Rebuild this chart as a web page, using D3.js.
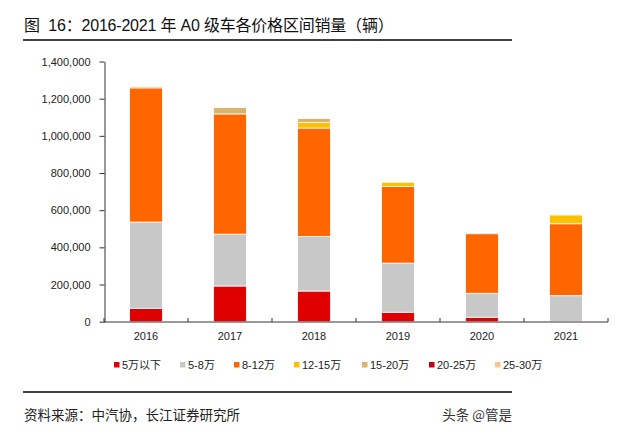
<!DOCTYPE html>
<html><head><meta charset="utf-8">
<script src="https://cdn.jsdelivr.net/npm/d3@7"></script>
<style>
body{margin:0;background:#fff;}
svg{display:block;}
</style></head>
<body>
<svg id="c" width="640" height="435"></svg>
<script>
const years = ["2016","2017","2018","2019","2020","2021"];
const seriesNames = ["5万以下","5-8万","8-12万","12-15万","15-20万","20-25万","25-30万"];
const s_under5 = [72000, 192000, 165000, 51000, 24000, 2000];
const s_5_8    = [464000, 279000, 293000, 264000, 129000, 138000];
const s_8_12   = [722000, 647000, 584000, 413000, 320000, 387000];
const s_12_15  = [0, 0, 30000, 22000, 0, 47000];
const s_15_20  = [8000, 35000, 22000, 0, 0, 0];
const s_20_25  = [0, 0, 0, 0, 0, 0];
const s_25_30  = [0, 0, 0, 0, 0, 0];
const yTicks = [0, 200000, 400000, 600000, 800000, 1000000, 1200000, 1400000];
const colors = ["#E00000","#C8C8C8","#FF6600","#FFC000","#D8B46E","#C0001A","#F9C58E"];

const allSeries = [s_under5, s_5_8, s_8_12, s_12_15, s_15_20, s_20_25, s_25_30];
const table = years.map((y,i)=>{const o={year:y}; seriesNames.forEach((n,k)=>o[n]=allSeries[k][i]); return o;});

const svg = d3.select("#c");
const numFont = "Liberation Sans, Arial, sans-serif";
const mixFont = "'Liberation Sans', 'Noto Sans CJK SC', sans-serif";
const cjkFont = "'Noto Sans CJK SC', 'Liberation Sans', sans-serif";

// title
svg.append("text").attr("x",24).attr("y",31).attr("font-family",mixFont)
  .attr("font-size",16).attr("letter-spacing",-0.2).attr("fill","#111").attr("xml:space","preserve").text("图  16：2016-2021 年 A0 级车各价格区间销量（辆）");
svg.append("line").attr("x1",23).attr("x2",512).attr("y1",40).attr("y2",40).attr("stroke","#000").attr("stroke-width",1.6);
svg.append("line").attr("x1",23).attr("x2",512).attr("y1",392).attr("y2",392).attr("stroke","#000").attr("stroke-width",1.6);
svg.append("text").attr("x",24).attr("y",420).attr("font-family",cjkFont)
  .attr("font-size",13.5).attr("fill","#222").text("资料来源：中汽协，长江证券研究所");
svg.append("text").attr("x",512).attr("y",420).attr("text-anchor","end").attr("font-family",cjkFont)
  .attr("font-size",13.5).attr("fill","#333").text("头条 @管是");

const x = d3.scaleBand().domain(years).range([104,608]).paddingInner(0.61).paddingOuter(0.305);
const y = d3.scaleLinear().domain([0,1400000]).range([321.7,61.5]);

const stack = d3.stack().keys(seriesNames)(table);
svg.append("g").selectAll("g").data(stack).join("g").attr("fill",(d,i)=>colors[i])
  .selectAll("rect").data(d=>d).join("rect")
  .attr("x",d=>x(d.data.year)).attr("width",x.bandwidth())
  .attr("y",d=>y(d[1])).attr("height",d=>Math.max(0,y(d[0])-y(d[1])))
  .attr("stroke",d=>(d[1]-d[0])>0?"#fff":"none").attr("stroke-width",0.8);

// y axis
const ya = svg.append("g").attr("transform","translate(104.5,0)")
  .call(d3.axisLeft(y).tickValues(yTicks).tickFormat(d3.format(",")).tickSize(5).tickSizeOuter(0));
ya.select(".domain").attr("stroke","#333");
ya.selectAll(".tick line").attr("stroke","#333");
ya.selectAll("text").attr("font-family",numFont).attr("font-size",11).attr("fill","#222").attr("x",-14);

// x axis
const xa = svg.append("g").attr("transform","translate(0,322)");
xa.append("line").attr("x1",104).attr("x2",608).attr("stroke","#333");
const bounds = d3.range(years.length+1).map(i=>104 + i*x.step());
xa.selectAll(".tk").data(bounds).join("line").attr("x1",d=>d).attr("x2",d=>d).attr("y1",0).attr("y2",-4).attr("stroke","#333");
xa.selectAll("text").data(years).join("text").attr("x",d=>x(d)+x.bandwidth()/2).attr("y",18)
  .attr("text-anchor","middle").attr("font-family",numFont).attr("font-size",11).attr("fill","#222").text(d=>d);

// legend
const legX = [114, 180, 234, 294, 362, 429, 495];
const lg = svg.append("g").selectAll("g").data(seriesNames).join("g")
  .attr("transform",(d,i)=>`translate(${legX[i]},365)`);
lg.append("rect").attr("x",0).attr("y",-3).attr("width",5.5).attr("height",5.5).attr("fill",(d,i)=>colors[i]);
lg.append("text").attr("x",8).attr("y",4).attr("font-family",mixFont).attr("font-size",11).attr("fill","#222").text(d=>d);
</script>
</body></html>
